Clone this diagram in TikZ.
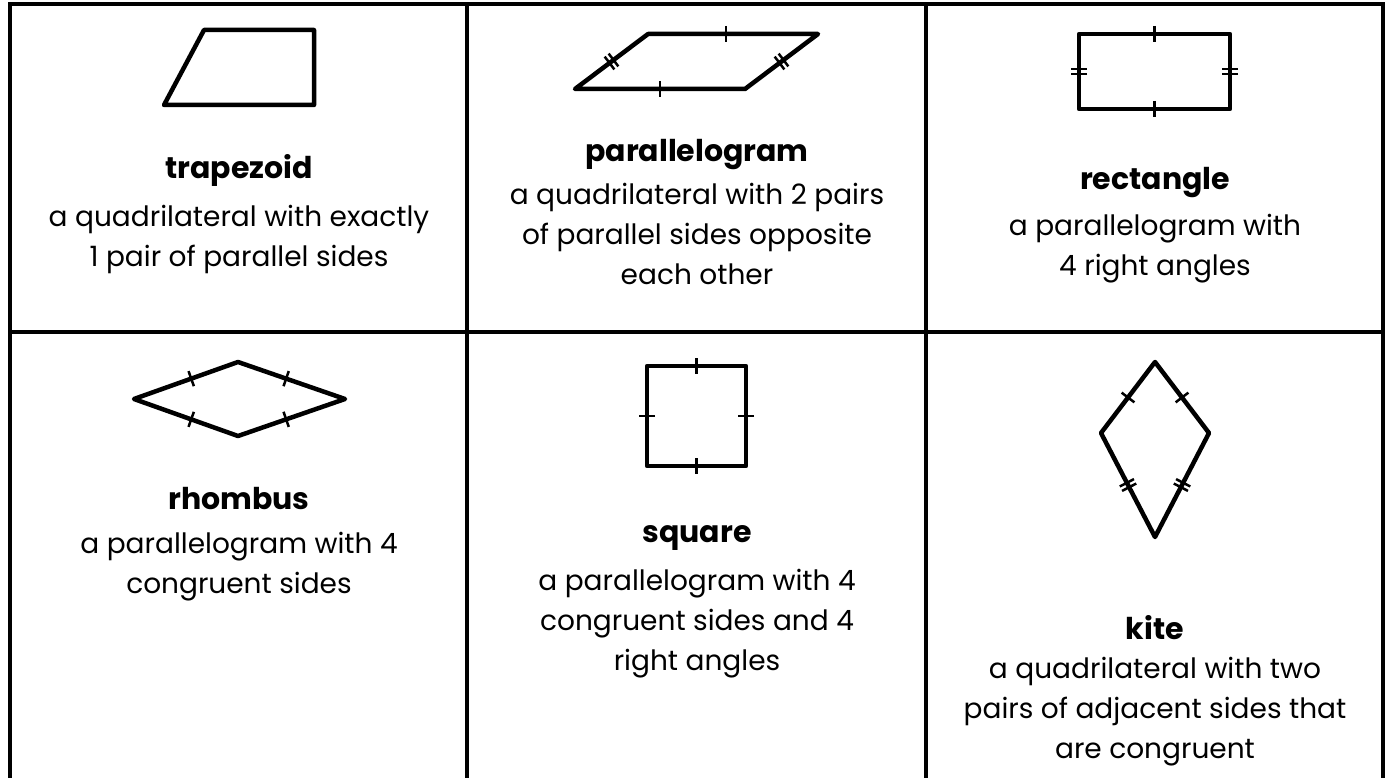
\documentclass[tikz,border=0pt]{standalone}
\usepackage{fontspec}
\setmainfont{Poppins}
\usetikzlibrary{calc}
\tikzset{
  gridline/.style={line width=3.5pt, line cap=rect},
  quad/.style={line width=4.5pt, line join=round, line cap=round},
  tickline/.style={line width=2.5pt},
  title/.style={font=\fontsize{30}{34}\selectfont\bfseries},
  desc/.style={font=\fontsize{28}{40}\selectfont, align=center, anchor=north}
}
\newcommand\tk[3]{%
  \path ($(#1)!#3!(#2)$) coordinate (tm);
  \draw[tickline] ($(tm)!8pt!90:(#2)$) -- ($(tm)!8pt!-90:(#2)$);
}
\newcommand\dtk[3]{%
  \path ($(#1)!#3!(#2)$) coordinate (tm);
  \path ($(tm)!2.5pt!(#2)$) coordinate (ta);
  \path ($(tm)!-2.5pt!(#2)$) coordinate (tb);
  \draw[tickline] ($(ta)!8pt!90:(#2)$) -- ($(ta)!8pt!-90:(#2)$);
  \draw[tickline] ($(tb)!8pt!90:(#2)$) -- ($(tb)!8pt!-90:(#2)$);
}
\begin{document}
\begin{tikzpicture}[x=1pt,y=-1pt]
\useasboundingbox (0,0) rectangle (1386,778);
% table grid
\draw[gridline] (10,790) -- (10,4) -- (1383,4) -- (1383,790);
\draw[gridline] (467,4) -- (467,790);
\draw[gridline] (926,4) -- (926,790);
\draw[gridline] (10,332) -- (1383,332);

% trapezoid
\coordinate (t1) at (204,30); \coordinate (t2) at (314,30);
\coordinate (t3) at (314,105); \coordinate (t4) at (164,105);
\draw[quad] (t1) -- (t2) -- (t3) -- (t4) -- cycle;
\node[title] (ttrap) at (239,170) {trapezoid};
\node[desc] (dtrap) at (239,202) {a quadrilateral with exactly\\1 pair of parallel sides};

% parallelogram
\coordinate (p1) at (648,34); \coordinate (p2) at (818,34);
\coordinate (p3) at (745,89); \coordinate (p4) at (575,89);
\draw[quad] (p1) -- (p2) -- (p3) -- (p4) -- cycle;
\tk{p1}{p2}{0.46}
\tk{p4}{p3}{0.5}
\dtk{p4}{p1}{0.5}
\dtk{p3}{p2}{0.5}
\node[title] (tpar) at (697,155) {parallelogram};
\node[desc] (dpar) at (697,180) {a quadrilateral with 2 pairs\\of parallel sides opposite\\each other};

% rectangle
\coordinate (r1) at (1079,34); \coordinate (r2) at (1230,34);
\coordinate (r3) at (1230,109); \coordinate (r4) at (1079,109);
\draw[quad] (r1) -- (r2) -- (r3) -- (r4) -- cycle;
\tk{r1}{r2}{0.5}
\tk{r4}{r3}{0.5}
\dtk{r1}{r4}{0.5}
\dtk{r2}{r3}{0.5}
\node[title] (trect) at (1155,183) {rectangle};
\node[desc] (drect) at (1155,211) {a parallelogram with\\4 right angles};

% rhombus
\coordinate (h1) at (134,399); \coordinate (h2) at (238,362);
\coordinate (h3) at (345,399); \coordinate (h4) at (238,436);
\draw[quad] (h1) -- (h2) -- (h3) -- (h4) -- cycle;
\tk{h1}{h2}{0.55}
\tk{h2}{h3}{0.45}
\tk{h1}{h4}{0.55}
\tk{h4}{h3}{0.45}
\node[title] (trho) at (239,499) {rhombus};
\node[desc] (drho) at (239,529) {a parallelogram with 4\\congruent sides};

% square
\coordinate (s1) at (647,366); \coordinate (s2) at (746,366);
\coordinate (s3) at (746,466); \coordinate (s4) at (647,466);
\draw[quad] (s1) -- (s2) -- (s3) -- (s4) -- cycle;
\tk{s1}{s2}{0.5}
\tk{s4}{s3}{0.5}
\tk{s1}{s4}{0.5}
\tk{s2}{s3}{0.5}
\node[title] (tsq) at (697,538) {square};
\node[desc] (dsq) at (697,566) {a parallelogram with 4\\congruent sides and 4\\right angles};

% kite
\coordinate (k1) at (1155,362); \coordinate (k2) at (1209,433);
\coordinate (k3) at (1155,537); \coordinate (k4) at (1101,433);
\draw[quad] (k1) -- (k2) -- (k3) -- (k4) -- cycle;
\tk{k1}{k4}{0.5}
\tk{k1}{k2}{0.5}
\dtk{k4}{k3}{0.5}
\dtk{k2}{k3}{0.5}
\node[title] (tkite) at (1155,628) {kite};
\node[desc] (dkite) at (1155,654) {a quadrilateral with two\\pairs of adjacent sides that\\are congruent};
\end{tikzpicture}
\end{document}
